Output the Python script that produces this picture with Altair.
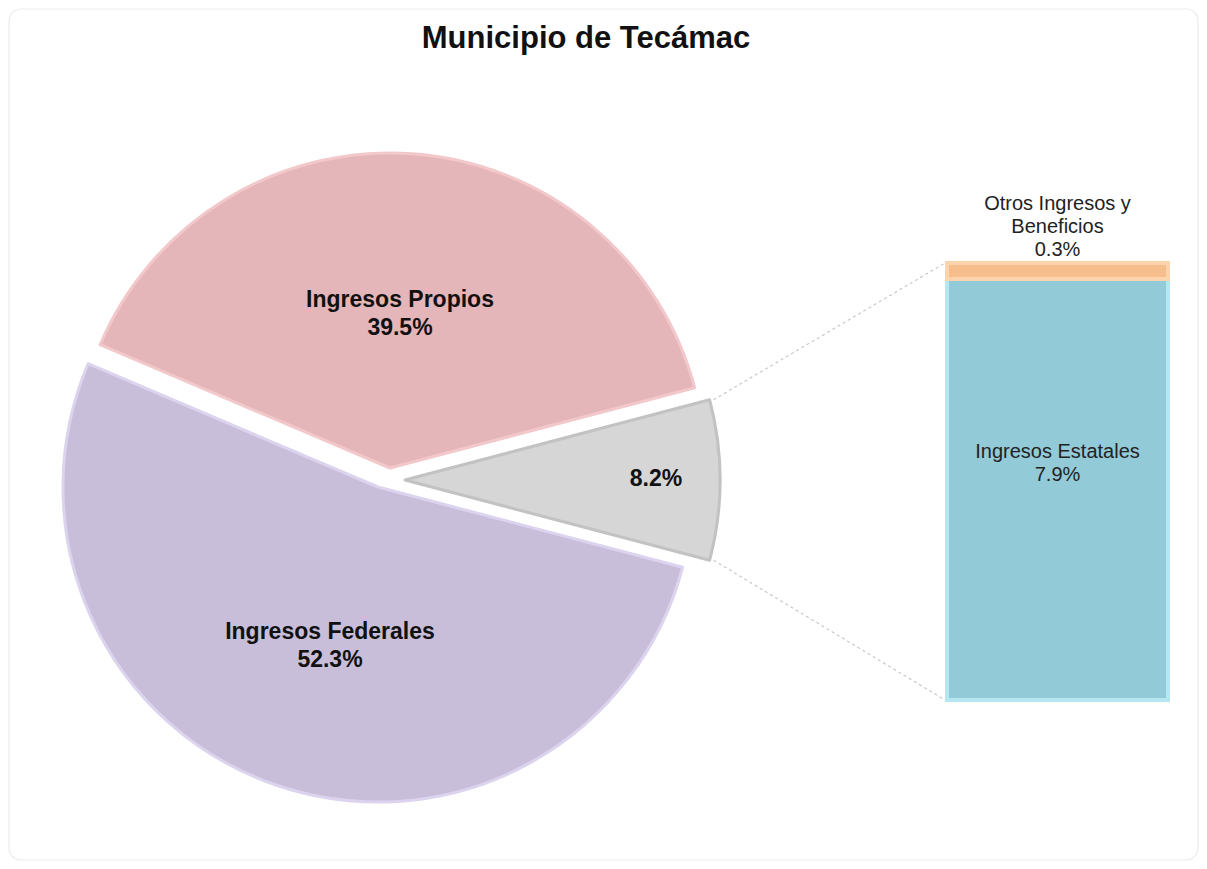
import math
import altair as alt
import pandas as pd

# ---- data ----
title_text = "Municipio de Tecámac"
pie_categories = ["Ingresos Estatales y Otros", "Ingresos Federales", "Ingresos Propios"]
pie_values = [8.2, 52.3, 39.5]
pie_show_name = [False, True, True]
bar_categories = ["Ingresos Estatales", "Otros Ingresos y Beneficios"]
bar_values = [7.9, 0.3]
bar_label_lines = [["Ingresos Estatales"], ["Otros Ingresos y", "Beneficios"]]

# ---- layout / style ----
W, H = 1191, 853
R = 315
apex = {  # exploded slice centres
    "Ingresos Estatales y Otros": (397, 472),
    "Ingresos Federales": (370, 479),
    "Ingresos Propios": (382, 460),
}
fills = {
    "Ingresos Estatales y Otros": "#d6d6d6",
    "Ingresos Federales": "#c8bed9",
    "Ingresos Propios": "#e4b5b9",
}
rims = {
    "Ingresos Estatales y Otros": "#c2c2c2",
    "Ingresos Federales": "#dcd3ee",
    "Ingresos Propios": "#f2c8cb",
}
pie_label_pos = {  # position of first line
    "Ingresos Estatales y Otros": (648, 471),
    "Ingresos Federales": (322, 624),
    "Ingresos Propios": (392, 292),
}
bar_x0, bar_x1 = 937, 1162
bar_top, bar_bottom = 255, 692
bar_fills = ["#93cad8", "#f6be8c"]
bar_rims = ["#b6e6f2", "#fbd4ad"]

# ---- derived tables ----
total = sum(pie_values)
pie_df = pd.DataFrame({"cat": pie_categories, "value": pie_values})
pie_df["t1"] = pie_df["value"].cumsum()
pie_df["t0"] = pie_df["t1"] - pie_df["value"]
# first slice centred at 3 o'clock
start = math.pi / 2 - math.pi * pie_values[0] / total
theta_scale = alt.Scale(domain=[0, total], range=[start, start + 2 * math.pi])

bar_total = sum(bar_values)
bar_df = pd.DataFrame({"cat": bar_categories, "value": bar_values})
bar_df["b1"] = bar_df["value"].cumsum()
bar_df["b0"] = bar_df["b1"] - bar_df["value"]
y_scale = alt.Scale(domain=[0, bar_total], range=[bar_bottom, bar_top])

one = pd.DataFrame({"a": [0]})
layers = []

# frame
layers.append(
    alt.Chart(one).mark_rect(
        fill="white", stroke="#ececec", strokeWidth=1.2, cornerRadius=12
    ).encode(x=alt.value(1), x2=alt.value(W - 1), y=alt.value(1), y2=alt.value(H - 1))
)

# pie slices
for cat in pie_categories:
    cx, cy = apex[cat]
    layers.append(
        alt.Chart(pie_df).transform_filter(alt.datum.cat == cat).mark_arc(
            radius=R, fill=fills[cat], stroke=rims[cat], strokeWidth=3, strokeJoin="round"
        ).encode(
            theta=alt.Theta("t0:Q", scale=theta_scale),
            theta2="t1:Q",
            x=alt.value(cx),
            y=alt.value(cy),
        )
    )

# connector lines from the small slice to the bar
a0 = start
a1 = start + 2 * math.pi * pie_values[0] / total
gx, gy = apex[pie_categories[0]]
p_up = (gx + R * math.sin(a0), gy - R * math.cos(a0))
p_dn = (gx + R * math.sin(a1), gy - R * math.cos(a1))
for (px, py), by in [(p_up, bar_top), (p_dn, bar_bottom)]:
    layers.append(
        alt.Chart(one).mark_rule(
            color="#c8c8c8", strokeDash=[3, 3], strokeWidth=1.2
        ).encode(x=alt.value(px + 4), y=alt.value(py), x2=alt.value(bar_x0), y2=alt.value(by))
    )

# stacked bar
for i, cat in enumerate(bar_categories):
    layers.append(
        alt.Chart(bar_df).transform_filter(alt.datum.cat == cat).mark_rect(
            fill=bar_fills[i], stroke=bar_rims[i], strokeWidth=4
        ).encode(
            y=alt.Y("b0:Q", scale=y_scale, axis=None),
            y2="b1:Q",
            x=alt.value(bar_x0 + 2),
            x2=alt.value(bar_x1 - 2),
        )
    )

# pie labels
for i, cat in enumerate(pie_categories):
    pct = f"{pie_values[i]:.1f}%"
    lines = [cat, pct] if pie_show_name[i] else [pct]
    lx, ly = pie_label_pos[cat]
    layers.append(
        alt.Chart(one).mark_text(
            text=lines, font="Liberation Sans", fontSize=23, fontWeight="bold",
            color="#111111", align="center", baseline="middle", lineHeight=28
        ).encode(x=alt.value(lx), y=alt.value(ly))
    )

# bar labels
cx_bar = (bar_x0 + bar_x1) / 2
est_lines = bar_label_lines[0] + [f"{bar_values[0]:.1f}%"]
layers.append(
    alt.Chart(one).mark_text(
        text=est_lines, font="Liberation Sans", fontSize=20, color="#222222",
        align="center", baseline="middle", lineHeight=23
    ).encode(x=alt.value(cx_bar), y=alt.value(444))
)
otr_lines = bar_label_lines[1] + [f"{bar_values[1]:.1f}%"]
layers.append(
    alt.Chart(one).mark_text(
        text=otr_lines, font="Liberation Sans", fontSize=20, color="#222222",
        align="center", baseline="middle", lineHeight=23
    ).encode(x=alt.value(cx_bar), y=alt.value(196))
)

# title
layers.append(
    alt.Chart(one).mark_text(
        text=title_text, font="Liberation Sans", fontSize=31, fontWeight="bold",
        color="#111111", align="center", baseline="middle"
    ).encode(x=alt.value(578), y=alt.value(31))
)

chart = alt.layer(*layers).properties(
    width=W, height=H, autosize=alt.AutoSizeParams(type="none"), padding=0,
    background="white"
).configure_view(stroke=None)

chart.save("out.html", embed_options={"renderer": "svg", "actions": False})
